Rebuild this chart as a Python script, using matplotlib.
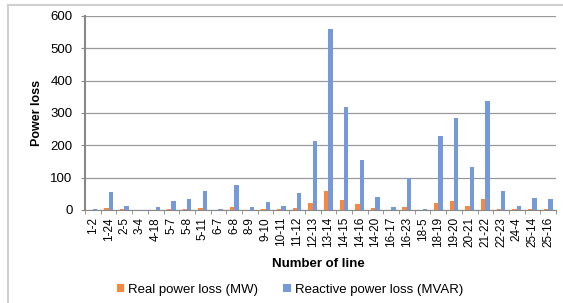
import numpy as np
import matplotlib.pyplot as plt
from matplotlib.patches import Rectangle

plt.rcParams['font.family'] = ['Liberation Sans', 'DejaVu Sans']

lines = ['1-2', '1-24', '2-5', '3-4', '4-18', '5-7', '5-8', '5-11', '6-7', '6-8',
         '8-9', '9-10', '10-11', '11-12', '12-13', '13-14', '14-15', '14-16', '14-20', '16-17',
         '16-23', '18-5', '18-19', '19-20', '20-21', '21-22', '22-23', '24-4', '25-14', '25-16']
real_loss = [1, 5, 3, 0, 0.5, 3, 3, 5, 0.5, 8,
             0.5, 3, 3, 5, 22, 60, 30, 18, 5, 0.5,
             9, 0.5, 22, 28, 12, 33, 4, 2, 4, 2]
reactive_loss = [3, 56, 12, 0, 8, 28, 33, 58, 3, 78,
                 9, 25, 13, 53, 212, 560, 318, 155, 40, 9,
                 99, 3, 228, 284, 133, 337, 60, 12, 37, 35]

fig = plt.figure(figsize=(5.63, 3.03), dpi=100)
ax = fig.add_axes([85/563, 1 - 210/303, 471/563, 194/303])

x = np.arange(len(lines))
w = 0.28
ax.bar(x - w/2, real_loss, w, color='#F7883F', label='Real power loss (MW)', zorder=3)
ax.bar(x + w/2, reactive_loss, w, color='#7599D9', label='Reactive power loss (MVAR)', zorder=3)

ax.set_xlim(-0.5, len(lines) - 0.5)
ax.set_ylim(0, 600)
ax.set_yticks(range(0, 601, 100))
ax.yaxis.grid(True, color='#9a9a9a', linewidth=0.9, zorder=0)
ax.set_xticks(x)
ax.set_xticklabels(lines, rotation=90, fontsize=8.5)
ax.set_xticks(np.arange(-0.5, len(lines), 1), minor=True)
ax.tick_params(axis='x', which='major', length=0, pad=5)
ax.tick_params(axis='x', which='minor', length=3, color='#888888')
ax.tick_params(axis='y', length=3, color='#888888', labelsize=9.5, pad=6)

for s in ['top', 'right']:
    ax.spines[s].set_visible(False)
ax.spines['left'].set_color('#888888')
ax.spines['left'].set_linewidth(1.5)
ax.spines['bottom'].set_color('#888888')

ax.set_ylabel('Power loss', fontsize=9, fontweight='bold', labelpad=5)
fig.text(318/563, 1 - 264/303, 'Number of line', fontsize=9.5, fontweight='bold',
         ha='center', va='center')

ax.legend(loc='center', bbox_to_anchor=(290/563, 1 - 290/303), bbox_transform=fig.transFigure,
          ncol=2, frameon=False, fontsize=9.5, handlelength=0.55, handleheight=0.55,
          columnspacing=1.9, handletextpad=0.3)

# chart frame
fig.add_artist(Rectangle((8/563, -0.1), 1.2, (1 - 5/303) + 0.1, transform=fig.transFigure,
                         fill=False, edgecolor='#d0d0d0', linewidth=1.5))

plt.savefig('out.png', dpi=100)
plt.close()
